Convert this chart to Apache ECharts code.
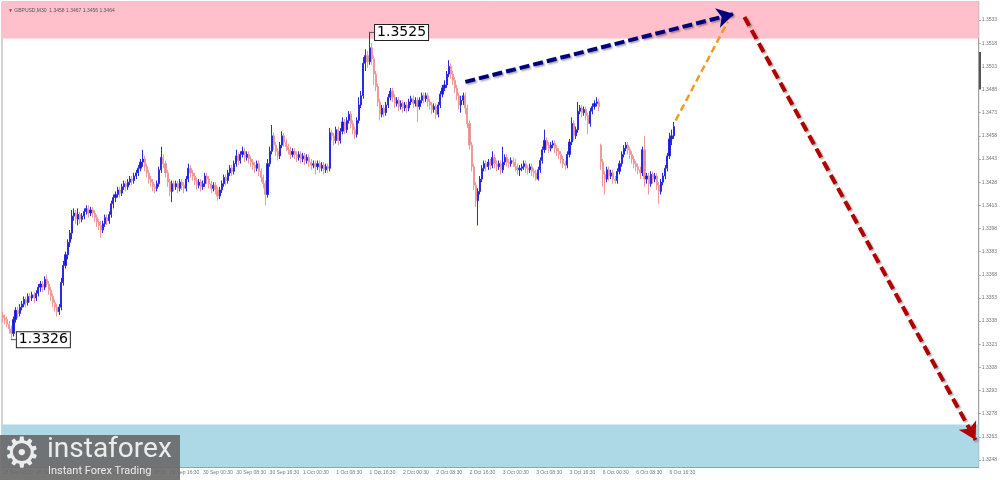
<!DOCTYPE html>
<html><head><meta charset="utf-8">
<script src="https://cdn.jsdelivr.net/npm/echarts@6/dist/echarts.min.js"></script>
<style>html,body{margin:0;padding:0;background:#fff}#c{width:1000px;height:480px}</style>
</head><body><div id="c"></div>
<script>
const headerText = '\u25BC GBPUSD,M30  1.3458 1.3467 1.3456 1.3464';
const tradingDays = ['26 Sep', '29 Sep', '30 Sep', '1 Oct', '2 Oct', '3 Oct', '6 Oct'];
const firstSlot = [1, 0, 0, 0, 0, 0, 0];
// bars: [open, close, low, high]
const sep26 = [
[1.3342,1.3340,1.3337,1.3344],[1.3340,1.3339,1.3336,1.3342],[1.3339,1.3336,1.3334,1.3341],[1.3336,1.3333,1.3330,1.3338],
[1.3333,1.3330,1.3326,1.3335],[1.3330,1.3339,1.3328,1.3341],[1.3339,1.3345,1.3337,1.3347],[1.3345,1.3343,1.3340,1.3347],
[1.3343,1.3347,1.3341,1.3349],[1.3347,1.3349,1.3345,1.3351],[1.3349,1.3352,1.3347,1.3354],[1.3352,1.3350,1.3347,1.3354],
[1.3350,1.3354,1.3348,1.3356],[1.3354,1.3353,1.3350,1.3356],[1.3353,1.3355,1.3351,1.3357],[1.3355,1.3353,1.3350,1.3357],
[1.3353,1.3356,1.3351,1.3358],[1.3356,1.3360,1.3354,1.3362],[1.3360,1.3362,1.3357,1.3364],[1.3362,1.3360,1.3357,1.3364],
[1.3360,1.3365,1.3358,1.3367],[1.3365,1.3362,1.3360,1.3368],[1.3362,1.3358,1.3355,1.3364],[1.3358,1.3354,1.3351,1.3360],
[1.3354,1.3350,1.3347,1.3356],[1.3350,1.3347,1.3344,1.3352],[1.3347,1.3344,1.3341,1.3349],[1.3344,1.3347,1.3342,1.3349],
[1.3347,1.3363,1.3345,1.3366],[1.3363,1.3374,1.3361,1.3377],[1.3374,1.3381,1.3372,1.3383],[1.3381,1.3389,1.3378,1.3391],
[1.3389,1.3395,1.3386,1.3397],[1.3395,1.3406,1.3391,1.3410],[1.3406,1.3408,1.3403,1.3411],[1.3408,1.3404,1.3401,1.3410],
[1.3404,1.3407,1.3400,1.3411],[1.3407,1.3404,1.3401,1.3409],[1.3404,1.3406,1.3402,1.3408],[1.3406,1.3409,1.3404,1.3411],
[1.3409,1.3411,1.3407,1.3413],[1.3411,1.3408,1.3405,1.3413],[1.3408,1.3410,1.3406,1.3412],[1.3410,1.3408,1.3405,1.3412],
[1.3408,1.3405,1.3402,1.3410],[1.3405,1.3402,1.3399,1.3407],[1.3402,1.3400,1.3397,1.3404]
];
const sep29 = [
[1.3400,1.3397,1.3392,1.3403],[1.3397,1.3401,1.3395,1.3403],[1.3401,1.3405,1.3399,1.3407],[1.3405,1.3403,1.3400,1.3407],
[1.3403,1.3407,1.3401,1.3409],[1.3407,1.3414,1.3405,1.3416],[1.3414,1.3418,1.3411,1.3420],[1.3418,1.3420,1.3415,1.3422],
[1.3420,1.3423,1.3418,1.3425],[1.3423,1.3421,1.3418,1.3425],[1.3421,1.3425,1.3419,1.3427],[1.3425,1.3427,1.3423,1.3429],
[1.3427,1.3425,1.3422,1.3429],[1.3425,1.3428,1.3423,1.3430],[1.3428,1.3430,1.3426,1.3432],[1.3430,1.3429,1.3426,1.3432],
[1.3429,1.3432,1.3427,1.3434],[1.3432,1.3434,1.3430,1.3436],[1.3434,1.3437,1.3432,1.3439],[1.3437,1.3441,1.3435,1.3443],
[1.3441,1.3443,1.3438,1.3449],[1.3443,1.3438,1.3435,1.3445],[1.3438,1.3434,1.3431,1.3440],[1.3434,1.3430,1.3427,1.3436],
[1.3430,1.3428,1.3425,1.3432],[1.3428,1.3425,1.3422,1.3430],[1.3425,1.3424,1.3421,1.3427],[1.3424,1.3427,1.3422,1.3429],
[1.3427,1.3436,1.3425,1.3438],[1.3436,1.3444,1.3434,1.3451],[1.3444,1.3440,1.3437,1.3446],[1.3440,1.3434,1.3431,1.3442],
[1.3434,1.3428,1.3425,1.3436],[1.3428,1.3422,1.3419,1.3430],[1.3422,1.3427,1.3415,1.3429],[1.3427,1.3425,1.3422,1.3429],
[1.3425,1.3427,1.3423,1.3429],[1.3427,1.3424,1.3421,1.3429],[1.3424,1.3428,1.3422,1.3430],[1.3428,1.3426,1.3423,1.3430],
[1.3426,1.3424,1.3421,1.3428],[1.3424,1.3430,1.3422,1.3432],[1.3430,1.3437,1.3428,1.3440],[1.3437,1.3434,1.3431,1.3439],
[1.3434,1.3432,1.3429,1.3436],[1.3432,1.3429,1.3426,1.3434],[1.3429,1.3426,1.3423,1.3431],[1.3426,1.3428,1.3424,1.3430]
];
const sep30 = [
[1.3428,1.3425,1.3422,1.3430],[1.3425,1.3427,1.3423,1.3429],[1.3427,1.3432,1.3425,1.3434],[1.3432,1.3430,1.3427,1.3434],
[1.3430,1.3427,1.3424,1.3432],[1.3427,1.3424,1.3421,1.3429],[1.3424,1.3426,1.3422,1.3428],[1.3426,1.3423,1.3420,1.3428],
[1.3423,1.3419,1.3416,1.3425],[1.3419,1.3423,1.3417,1.3425],[1.3423,1.3427,1.3421,1.3429],[1.3427,1.3431,1.3425,1.3433],
[1.3431,1.3429,1.3426,1.3433],[1.3429,1.3434,1.3427,1.3436],[1.3434,1.3437,1.3432,1.3439],[1.3437,1.3435,1.3432,1.3439],
[1.3435,1.3440,1.3433,1.3442],[1.3440,1.3445,1.3438,1.3449],[1.3445,1.3442,1.3439,1.3447],[1.3442,1.3446,1.3440,1.3448],
[1.3446,1.3448,1.3444,1.3451],[1.3448,1.3444,1.3441,1.3450],[1.3444,1.3446,1.3442,1.3448],[1.3446,1.3443,1.3440,1.3448],
[1.3443,1.3441,1.3438,1.3445],[1.3441,1.3439,1.3436,1.3443],[1.3439,1.3437,1.3434,1.3441],[1.3437,1.3440,1.3435,1.3442],
[1.3440,1.3435,1.3432,1.3442],[1.3435,1.3431,1.3428,1.3437],[1.3431,1.3427,1.3424,1.3433],[1.3427,1.3420,1.3413,1.3429],
[1.3420,1.3440,1.3418,1.3443],[1.3440,1.3448,1.3438,1.3451],[1.3448,1.3458,1.3446,1.3465],[1.3458,1.3452,1.3449,1.3460],
[1.3452,1.3448,1.3445,1.3454],[1.3448,1.3445,1.3442,1.3450],[1.3445,1.3452,1.3443,1.3454],[1.3452,1.3458,1.3450,1.3461],
[1.3458,1.3454,1.3451,1.3460],[1.3454,1.3451,1.3448,1.3456],[1.3451,1.3449,1.3446,1.3453],[1.3449,1.3446,1.3443,1.3451],
[1.3446,1.3448,1.3444,1.3450],[1.3448,1.3446,1.3443,1.3450],[1.3446,1.3444,1.3441,1.3448],[1.3444,1.3446,1.3442,1.3448]
];
const oct01 = [
[1.3446,1.3443,1.3440,1.3448],[1.3443,1.3445,1.3441,1.3447],[1.3445,1.3442,1.3439,1.3447],[1.3442,1.3444,1.3440,1.3446],
[1.3444,1.3441,1.3438,1.3446],[1.3441,1.3439,1.3436,1.3443],[1.3439,1.3440,1.3437,1.3442],[1.3440,1.3438,1.3433,1.3442],
[1.3438,1.3440,1.3436,1.3442],[1.3440,1.3437,1.3434,1.3442],[1.3437,1.3439,1.3435,1.3441],[1.3439,1.3436,1.3433,1.3441],
[1.3436,1.3438,1.3434,1.3440],[1.3438,1.3437,1.3434,1.3440],[1.3437,1.3460,1.3435,1.3463],[1.3460,1.3458,1.3455,1.3462],
[1.3458,1.3455,1.3452,1.3460],[1.3455,1.3462,1.3453,1.3464],[1.3462,1.3455,1.3452,1.3464],[1.3455,1.3461,1.3453,1.3463],
[1.3461,1.3467,1.3459,1.3470],[1.3467,1.3462,1.3459,1.3469],[1.3462,1.3468,1.3460,1.3470],[1.3468,1.3472,1.3466,1.3474],
[1.3472,1.3466,1.3463,1.3474],[1.3466,1.3462,1.3459,1.3468],[1.3462,1.3459,1.3456,1.3464],[1.3459,1.3468,1.3457,1.3470],
[1.3468,1.3478,1.3466,1.3483],[1.3478,1.3484,1.3476,1.3487],[1.3484,1.3505,1.3482,1.3509],[1.3505,1.3510,1.3500,1.3514],
[1.3510,1.3506,1.3502,1.3513],[1.3506,1.3515,1.3504,1.3525],[1.3515,1.3508,1.3504,1.3518],[1.3508,1.3498,1.3491,1.3510],
[1.3498,1.3490,1.3487,1.3500],[1.3490,1.3480,1.3477,1.3492],[1.3480,1.3472,1.3468,1.3482],[1.3472,1.3476,1.3470,1.3478],
[1.3476,1.3473,1.3470,1.3478],[1.3473,1.3478,1.3471,1.3480],[1.3478,1.3483,1.3476,1.3485],[1.3483,1.3487,1.3481,1.3489],
[1.3487,1.3483,1.3480,1.3489],[1.3483,1.3479,1.3476,1.3485],[1.3479,1.3481,1.3477,1.3483],[1.3481,1.3477,1.3474,1.3483]
];
const oct02 = [
[1.3477,1.3479,1.3475,1.3481],[1.3479,1.3476,1.3473,1.3481],[1.3476,1.3478,1.3474,1.3480],[1.3478,1.3476,1.3473,1.3480],
[1.3476,1.3480,1.3474,1.3482],[1.3480,1.3482,1.3478,1.3484],[1.3482,1.3479,1.3476,1.3484],[1.3479,1.3481,1.3477,1.3483],
[1.3481,1.3477,1.3467,1.3483],[1.3477,1.3481,1.3475,1.3483],[1.3481,1.3484,1.3479,1.3486],[1.3484,1.3482,1.3479,1.3486],
[1.3482,1.3484,1.3480,1.3486],[1.3484,1.3480,1.3477,1.3486],[1.3480,1.3478,1.3475,1.3482],[1.3478,1.3475,1.3472,1.3480],
[1.3475,1.3477,1.3473,1.3479],[1.3477,1.3472,1.3469,1.3479],[1.3472,1.3478,1.3470,1.3480],[1.3478,1.3485,1.3476,1.3487],
[1.3485,1.3489,1.3483,1.3491],[1.3489,1.3491,1.3487,1.3494],[1.3491,1.3498,1.3489,1.3500],[1.3498,1.3503,1.3496,1.3507],
[1.3503,1.3498,1.3495,1.3505],[1.3498,1.3494,1.3491,1.3500],[1.3494,1.3489,1.3486,1.3496],[1.3489,1.3484,1.3481,1.3491],
[1.3484,1.3478,1.3475,1.3486],[1.3478,1.3481,1.3473,1.3484],[1.3481,1.3484,1.3478,1.3486],[1.3484,1.3476,1.3472,1.3486],
[1.3476,1.3466,1.3463,1.3478],[1.3466,1.3452,1.3449,1.3468],[1.3452,1.3438,1.3435,1.3454],[1.3438,1.3426,1.3423,1.3440],
[1.3426,1.3416,1.3412,1.3428],[1.3416,1.3422,1.3400,1.3424],[1.3422,1.3430,1.3420,1.3432],[1.3430,1.3437,1.3428,1.3439],
[1.3437,1.3440,1.3435,1.3442],[1.3440,1.3438,1.3435,1.3442],[1.3438,1.3441,1.3436,1.3443],[1.3441,1.3439,1.3436,1.3443],
[1.3439,1.3444,1.3437,1.3448],[1.3444,1.3440,1.3437,1.3446],[1.3440,1.3438,1.3435,1.3442],[1.3438,1.3440,1.3436,1.3442]
];
const oct03 = [
[1.3440,1.3436,1.3433,1.3442],[1.3436,1.3441,1.3434,1.3451],[1.3441,1.3444,1.3439,1.3446],[1.3444,1.3441,1.3438,1.3446],
[1.3441,1.3440,1.3437,1.3443],[1.3440,1.3442,1.3438,1.3444],[1.3442,1.3441,1.3438,1.3444],[1.3441,1.3438,1.3435,1.3443],
[1.3438,1.3436,1.3433,1.3440],[1.3436,1.3437,1.3432,1.3439],[1.3437,1.3438,1.3435,1.3440],[1.3438,1.3440,1.3436,1.3442],
[1.3440,1.3437,1.3434,1.3442],[1.3437,1.3436,1.3433,1.3439],[1.3436,1.3438,1.3434,1.3440],[1.3438,1.3435,1.3432,1.3440],
[1.3435,1.3434,1.3431,1.3437],[1.3434,1.3430,1.3429,1.3436],[1.3430,1.3436,1.3429,1.3438],[1.3436,1.3442,1.3434,1.3444],
[1.3442,1.3449,1.3440,1.3451],[1.3449,1.3455,1.3447,1.3462],[1.3455,1.3452,1.3449,1.3457],[1.3452,1.3450,1.3447,1.3454],
[1.3450,1.3452,1.3448,1.3454],[1.3452,1.3453,1.3450,1.3455],[1.3453,1.3450,1.3447,1.3455],[1.3450,1.3448,1.3445,1.3452],
[1.3448,1.3446,1.3443,1.3450],[1.3446,1.3443,1.3440,1.3448],[1.3443,1.3440,1.3437,1.3445],[1.3440,1.3439,1.3436,1.3442],
[1.3439,1.3446,1.3437,1.3448],[1.3446,1.3454,1.3444,1.3456],[1.3454,1.3466,1.3452,1.3470],[1.3466,1.3458,1.3455,1.3468],
[1.3458,1.3462,1.3456,1.3464],[1.3462,1.3474,1.3460,1.3480],[1.3474,1.3476,1.3472,1.3478],[1.3476,1.3473,1.3470,1.3478],
[1.3473,1.3475,1.3471,1.3477],[1.3475,1.3471,1.3468,1.3477],[1.3471,1.3466,1.3459,1.3473],[1.3466,1.3474,1.3464,1.3476],
[1.3474,1.3477,1.3472,1.3479],[1.3477,1.3479,1.3475,1.3481],[1.3479,1.3480,1.3477,1.3483],[1.3480,1.3477,1.3474,1.3482]
];
const oct06 = [
[1.3452,1.3441,1.3436,1.3453],[1.3441,1.3433,1.3425,1.3443],[1.3433,1.3430,1.3420,1.3435],[1.3430,1.3436,1.3428,1.3438],
[1.3436,1.3432,1.3429,1.3438],[1.3432,1.3434,1.3430,1.3436],[1.3434,1.3430,1.3427,1.3436],[1.3430,1.3429,1.3427,1.3432],
[1.3429,1.3435,1.3427,1.3437],[1.3435,1.3440,1.3433,1.3442],[1.3440,1.3446,1.3438,1.3448],[1.3446,1.3450,1.3444,1.3452],
[1.3450,1.3452,1.3448,1.3454],[1.3452,1.3449,1.3446,1.3454],[1.3449,1.3446,1.3443,1.3451],[1.3446,1.3443,1.3440,1.3448],
[1.3443,1.3440,1.3437,1.3445],[1.3440,1.3438,1.3435,1.3442],[1.3438,1.3436,1.3433,1.3440],[1.3436,1.3434,1.3430,1.3438],
[1.3434,1.3449,1.3432,1.3451],[1.3449,1.3430,1.3425,1.3458],[1.3430,1.3432,1.3427,1.3434],[1.3432,1.3427,1.3420,1.3434],
[1.3427,1.3433,1.3425,1.3435],[1.3433,1.3430,1.3427,1.3435],[1.3430,1.3432,1.3428,1.3434],[1.3432,1.3426,1.3423,1.3434],
[1.3426,1.3422,1.3414,1.3428],[1.3422,1.3428,1.3420,1.3430],[1.3428,1.3432,1.3426,1.3434],[1.3432,1.3437,1.3430,1.3439],
[1.3437,1.3445,1.3435,1.3447],[1.3445,1.3456,1.3443,1.3460],[1.3456,1.3458,1.3452,1.3462],[1.3458,1.3464,1.3456,1.3467]
];
const yTicks = [1.3248,1.3263,1.3278,1.3293,1.3308,1.3323,1.3338,1.3353,1.3368,1.3383,1.3398,
                1.3413,1.3428,1.3443,1.3458,1.3473,1.3488,1.3503,1.3518,1.3533];
const priceRange = [1.32435, 1.35447];
const totalSlots = 469;          // bars + forecast space
const labelStep = 16;            // one time label every 8 hours
const supplyZone = [1.3521, 1.35447];
const demandZone = [1.32435, 1.3271];
const highMark = [176, 1.3525];
const lowMark = [4, 1.3326];
const currentPrice = [1.3467, 1.3464];
const waveUp = [[222, 1.3493], [351, 1.3537]];
const waveNow = [[323, 1.3468], [348, 1.3532]];
const waveDown = [[356, 1.3535], [467, 1.3261]];

const dayBars = [sep26, sep29, sep30, oct01, oct02, oct03, oct06];
const categories = [];
const bars = [];
dayBars.forEach((list, d) => {
  list.forEach((b, k) => {
    const s = firstSlot[d] + k;
    const hh = Math.floor(s / 2);
    categories.push(tradingDays[d] + ' ' + String(hh).padStart(2, '0') + ':' + (s % 2 ? '30' : '00'));
    bars.push(b);
  });
});
const lastLabelIdx = categories.length - 1 - ((categories.length - 1) % labelStep);
for (let i = categories.length; i < totalSlots; i++) categories.push('f' + i);
const showLabel = (idx) => idx % labelStep === 0 && idx <= lastLabelIdx;

const chart = echarts.init(document.getElementById('c'), null, {renderer: 'canvas'});
const shadow = {shadowBlur: 2, shadowColor: 'rgba(0,0,0,0.35)', shadowOffsetX: 1.5, shadowOffsetY: 1.5};
chart.setOption({
  animation: false,
  backgroundColor: '#fff',
  title: {text: headerText, left: 3, top: 3, textStyle: {fontSize: 5, color: '#555', fontWeight: 'normal', fontFamily: 'Liberation Sans'}},
  grid: {left: 2, right: 20, top: 2, bottom: 13, show: true, borderColor: '#a8a8a8', borderWidth: 1, backgroundColor: '#fff'},
  xAxis: {
    type: 'category', data: categories, boundaryGap: true,
    axisLine: {lineStyle: {color: '#a0a0a0'}},
    axisTick: {interval: showLabel, alignWithLabel: true, length: 3, lineStyle: {color: '#a0a0a0'}},
    axisLabel: {interval: showLabel, fontSize: 5, color: '#777', align: 'left', margin: 3, fontFamily: 'Liberation Sans'},
    splitLine: {show: false}
  },
  yAxis: {
    type: 'value', position: 'right', min: priceRange[0], max: priceRange[1], scale: true,
    axisLine: {show: true, lineStyle: {color: '#a0a0a0'}},
    axisTick: {show: true, length: 2, customValues: yTicks, lineStyle: {color: '#a0a0a0'}},
    axisLabel: {customValues: yTicks, formatter: v => v.toFixed(4), fontSize: 5, color: '#777', margin: 3, fontFamily: 'Liberation Sans'},
    splitLine: {show: false}
  },
  series: [{
    type: 'candlestick',
    data: bars,
    barWidth: 1.6,
    itemStyle: {color: '#1414dc', color0: '#ec8a8a', borderColor: '#2a2ae6', borderColor0: '#ee9a9a', borderWidth: 1},
    markArea: {
      silent: true,
      data: [
        [{yAxis: supplyZone[0], itemStyle: {color: '#ffc0cb', opacity: 1}}, {yAxis: supplyZone[1]}],
        [{yAxis: demandZone[0], itemStyle: {color: '#add8e6', opacity: 1}}, {yAxis: demandZone[1]}]
      ]
    },
    markLine: {
      silent: true, animation: false,
      symbol: ['none', 'arrow'],
      label: {show: false},
      data: [
        [{coord: waveUp[0], symbol: 'none', lineStyle: Object.assign({color: '#00007e', width: 4, type: [10, 4]}, shadow)},
         {coord: waveUp[1], symbol: 'arrow', symbolSize: [15, 17]}],
        [{coord: waveNow[0], symbol: 'none', lineStyle: {color: '#f39a1e', width: 2.5, type: [7, 4]}},
         {coord: waveNow[1], symbol: 'none'}],
        [{coord: waveDown[0], symbol: 'none', lineStyle: Object.assign({color: '#b00000', width: 4, type: [10, 5]}, shadow)},
         {coord: waveDown[1], symbol: 'arrow', symbolSize: [15, 17]}],
        [{yAxis: currentPrice[1], symbol: 'none', lineStyle: {opacity: 0},
          label: {show: true, position: 'end', distance: 1, formatter: currentPrice[0].toFixed(4) + '\n' + currentPrice[1].toFixed(4),
                  backgroundColor: '#000', color: '#fff', fontSize: 5, lineHeight: 6, padding: [0, 1]}},
         {symbol: 'none', x: '98%'}]
      ]
    },
    markPoint: {
      silent: true, animation: false,
      symbol: 'rect', symbolSize: [5, 1], symbolOffset: [2, 0],
      itemStyle: {color: '#555'},
      label: {show: true, position: 'right', distance: 1, color: '#000', fontSize: 14, fontFamily: 'DejaVu Sans',
              backgroundColor: '#fff', borderColor: '#222', borderWidth: 1, padding: [1, 2, 0, 2],
              formatter: p => Number(p.value).toFixed(4)},
      data: [
        {coord: highMark, value: highMark[1]},
        {coord: lowMark, value: lowMark[1]}
      ]
    }
  }],
  graphic: [
    {type: 'rect', left: 979, top: 52, shape: {width: 2, height: 37}, style: {fill: '#555'}, z: 100},
    {type: 'rect', left: 0, top: 435, shape: {width: 180, height: 45}, style: {fill: 'rgba(104,104,104,0.9)'}, z: 100},
    {type: 'text', left: 3, top: 435, style: {text: '\u2699', fontSize: 42, fill: '#ececec', fontFamily: 'DejaVu Sans'}, z: 101},
    {type: 'text', left: 47, top: 436, style: {text: 'instaforex', fontSize: 28, fill: '#ececec', fontFamily: 'Roboto'}, z: 101},
    {type: 'text', left: 48, top: 466, style: {text: 'Instant Forex Trading', fontSize: 11, fill: '#ececec', fontFamily: 'Roboto'}, z: 101}
  ]
});
</script>
</body></html>
